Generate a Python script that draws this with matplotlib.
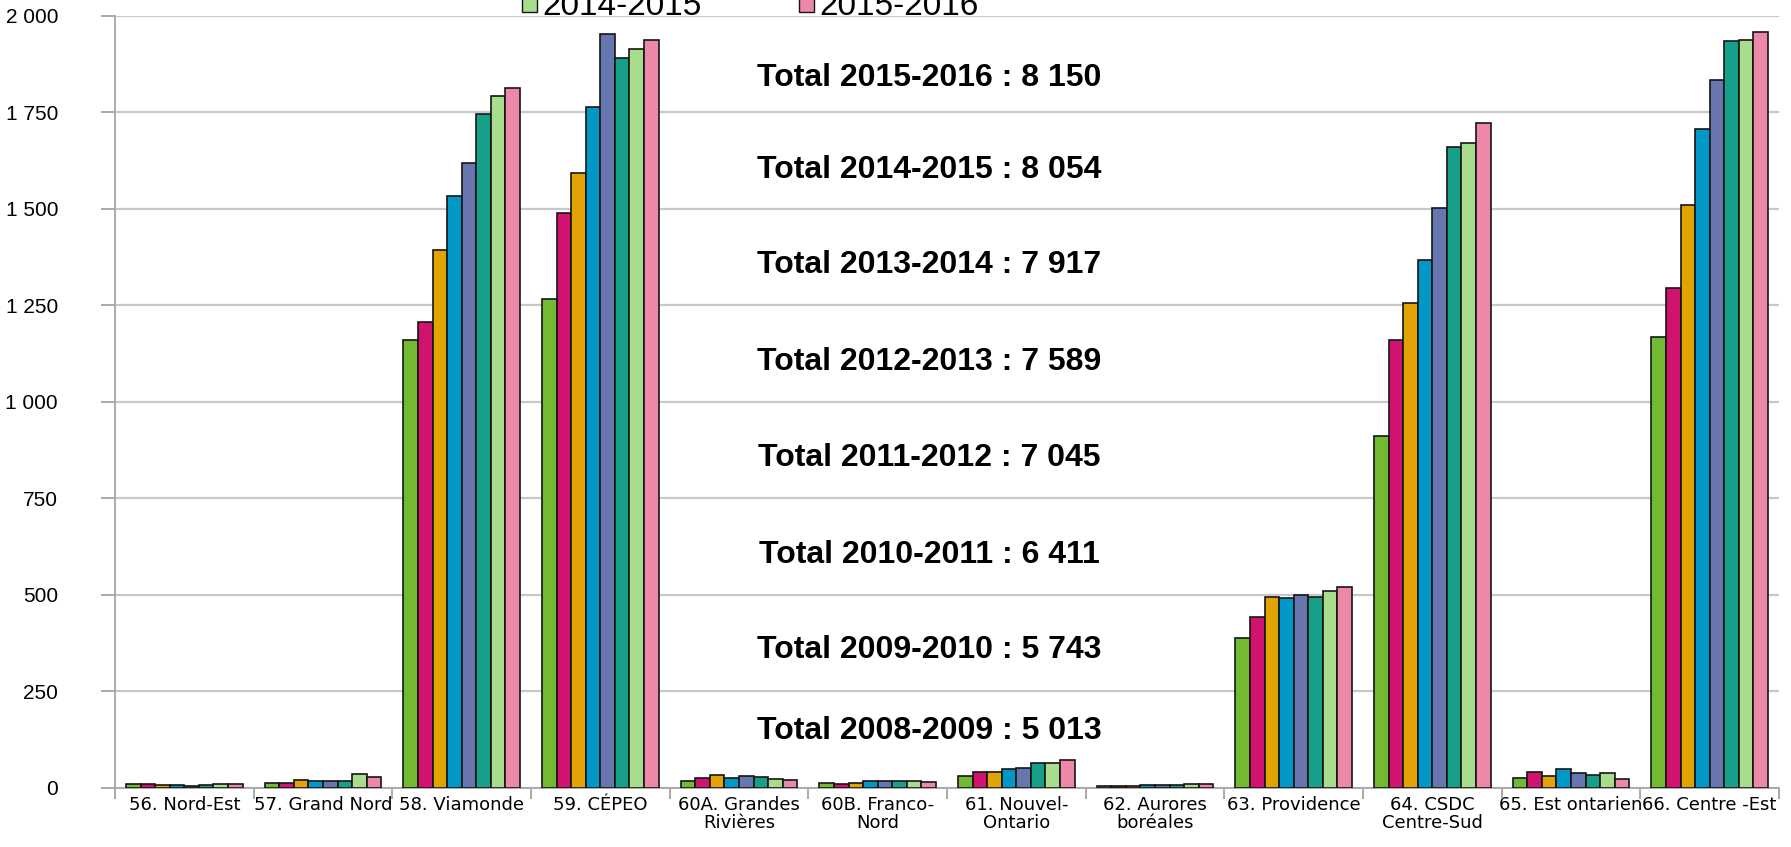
import matplotlib
matplotlib.use('Agg')
import matplotlib.pyplot as plt
import numpy as np
from matplotlib.patches import Patch
from matplotlib.ticker import FuncFormatter, MultipleLocator

# school boards (x categories)
boards = ['56. Nord-Est', '57. Grand Nord', '58. Viamonde', '59. CÉPEO',
          '60A. Grandes\nRivières', '60B. Franco-\nNord', '61. Nouvel-\nOntario',
          '62. Aurores\nboréales', '63. Providence', '64. CSDC\nCentre-Sud',
          '65. Est ontarien', '66. Centre -Est']

years = ['2008-2009', '2009-2010', '2010-2011', '2011-2012',
         '2012-2013', '2013-2014', '2014-2015', '2015-2016']

# enrolment per year, one value per board (same order as boards)
y2008 = [8, 11, 1159, 1266, 18, 11, 30, 4, 387, 910, 24, 1168]
y2009 = [9, 11, 1207, 1488, 24, 9, 41, 4, 443, 1159, 39, 1294]
y2010 = [7, 19, 1393, 1593, 33, 11, 40, 5, 493, 1256, 31, 1509]
y2011 = [6, 18, 1533, 1762, 24, 16, 47, 6, 492, 1367, 47, 1705]
y2012 = [4, 18, 1617, 1951, 30, 16, 51, 7, 500, 1501, 38, 1834]
y2013 = [6, 18, 1744, 1891, 28, 17, 63, 6, 494, 1660, 33, 1933]
y2014 = [10, 34, 1792, 1914, 22, 17, 63, 10, 510, 1671, 38, 1937]
y2015 = [8, 28, 1811, 1937, 20, 15, 72, 10, 520, 1722, 21, 1956]
series = [y2008, y2009, y2010, y2011, y2012, y2013, y2014, y2015]

totals = ['5 013', '5 743', '6 411', '7 045', '7 589', '7 917', '8 054', '8 150']

colors = ['#72B934', '#D0136E', '#E2A305', '#0098C6',
          '#6677B0', '#16A08A', '#A8DD8E', '#EE88A8']

fig = plt.figure(figsize=(17.91, 8.47), dpi=100)
ax = fig.add_axes([0.0642, 0.0702, 0.9291, 0.9115])

x = np.arange(len(boards))
width = 0.105
for i, vals in enumerate(series):
    ax.bar(x + (i - 3.5) * width, vals, width, color=colors[i],
           edgecolor='#151515', linewidth=1.2, zorder=3, label=years[i])

ax.set_xlim(-0.5, len(boards) - 0.5)
ax.set_ylim(0, 2000)

ax.yaxis.set_major_locator(MultipleLocator(250))
ax.yaxis.set_major_formatter(FuncFormatter(lambda v, p: f'{int(v):,}'.replace(',', ' ')))
ax.grid(axis='y', color='#c8c8c8', linewidth=1.6, zorder=0)
ax.set_axisbelow(True)

ax.set_xticks(x)
ax.set_xticklabels(boards, fontsize=13, family='DejaVu Sans', linespacing=1.0)
ax.set_xticks(np.arange(-0.5, len(boards), 1), minor=True)
ax.tick_params(axis='x', which='major', length=0, pad=6)
ax.tick_params(axis='x', which='minor', length=8, color='#999999', width=1.2)
ax.tick_params(axis='y', length=10, color='#999999', width=1.2, pad=31,
               labelsize=15)
for lab in ax.get_yticklabels():
    lab.set_family('Liberation Sans')

for side in ['top', 'right']:
    ax.spines[side].set_visible(False)
for side in ['left', 'bottom']:
    ax.spines[side].set_color('#aaaaaa')
    ax.spines[side].set_linewidth(1.4)

# "Total" annotations, newest at the top
total_pos = [0.0732, 0.1781, 0.3011, 0.4268, 0.5511, 0.6768, 0.7996, 0.9194]
for yr, tot, yp in zip(years, totals, total_pos):
    ax.text(0.4895, yp, f'Total {yr} : {tot}', transform=ax.transAxes,
            ha='center', va='center', fontsize=23, fontweight='bold',
            family='Liberation Sans', zorder=5)

# only the last legend row is visible at the top edge in the source image
handles = [Patch(facecolor=colors[k], edgecolor='#151515', linewidth=1.0) for k in (6, 7)]
fig.legend(handles, years[6:], loc='lower left', bbox_to_anchor=(0.2915, 0.974),
           ncol=2, frameon=False, borderpad=0, borderaxespad=0,
           handlelength=0.45, handleheight=0.45, handletextpad=0.17,
           columnspacing=2.9, prop={'family': 'Liberation Sans', 'size': 24})

fig.savefig('out.png', dpi=100)
